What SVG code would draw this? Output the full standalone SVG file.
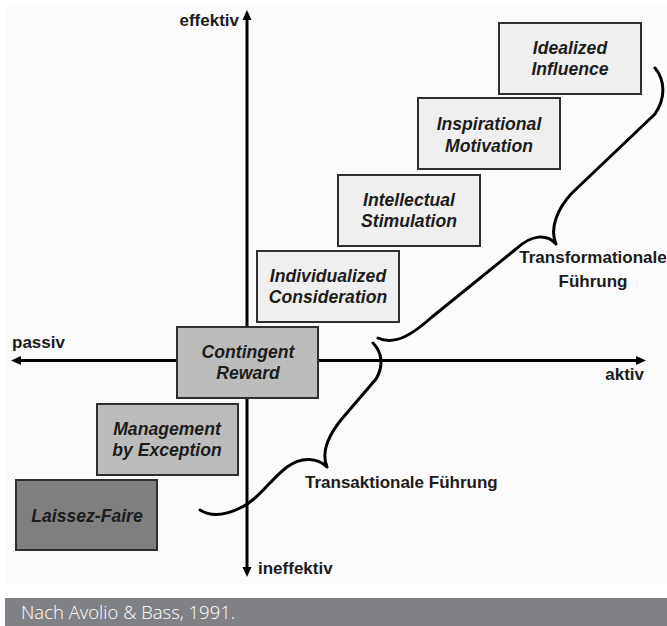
<svg xmlns="http://www.w3.org/2000/svg" width="667" height="626" viewBox="0 0 667 626">
<style>
.box{stroke:#2e2e2e;stroke-width:2}
.light{fill:#efefef}
.mid{fill:#bcbcbc}
.dark{fill:#7f7f7f}
.bt{font-family:"Liberation Sans",Arial,sans-serif;font-size:17.6px;font-weight:bold;font-style:italic;fill:#1c1c1c;text-anchor:middle}
.lab{font-family:"Liberation Sans",Arial,sans-serif;font-size:17px;font-weight:bold;fill:#1c1c1c}
.axis{stroke:#000;stroke-width:3;fill:none}
.brace{stroke:#000;stroke-width:3;fill:none;stroke-linecap:round;stroke-linejoin:round}
</style>
<rect x="0" y="0" width="667" height="626" fill="#ffffff"/>
<rect x="6" y="5" width="661" height="579" fill="#fbfbfb"/>
<g id="axes">
<line class="axis" x1="247" y1="18" x2="247" y2="569"/>
<polygon points="247,10 242.5,20 251.5,20" fill="#000"/>
<polygon points="247,577 242.5,567 251.5,567" fill="#000"/>
<line class="axis" x1="19" y1="360.5" x2="638" y2="360.5"/>
<polygon points="11,360.5 21,356 21,365" fill="#000"/>
<polygon points="646,360.5 636,356 636,365" fill="#000"/>
<text class="lab" x="239" y="26" text-anchor="end">effektiv</text>
<text class="lab" x="258" y="574">ineffektiv</text>
<text class="lab" x="12" y="348">passiv</text>
<text class="lab" x="644" y="380" text-anchor="end">aktiv</text>
</g>
<g id="idealized">
<rect class="box light" x="499" y="23" width="142" height="71"/>
<text class="bt" x="570" y="54">Idealized</text>
<text class="bt" x="570" y="75">Influence</text>
</g>
<g id="inspirational">
<rect class="box light" x="418" y="98" width="142" height="71"/>
<text class="bt" x="489" y="130">Inspirational</text>
<text class="bt" x="489" y="152">Motivation</text>
</g>
<g id="intellectual">
<rect class="box light" x="338" y="175" width="142" height="71"/>
<text class="bt" x="409" y="206">Intellectual</text>
<text class="bt" x="409" y="227">Stimulation</text>
</g>
<g id="individualized">
<rect class="box light" x="257" y="251" width="142" height="71"/>
<text class="bt" x="328" y="282">Individualized</text>
<text class="bt" x="328" y="303">Consideration</text>
</g>
<g id="contingent">
<rect class="box mid" x="177" y="327" width="141" height="71"/>
<text class="bt" x="248" y="358">Contingent</text>
<text class="bt" x="248" y="379">Reward</text>
</g>
<g id="management">
<rect class="box mid" x="97" y="404" width="141" height="71"/>
<text class="bt" x="167" y="435">Management</text>
<text class="bt" x="167" y="456">by Exception</text>
</g>
<g id="laissez">
<rect class="box dark" x="16" y="480" width="141" height="70"/>
<text class="bt" x="87" y="522">Laissez-Faire</text>
</g>
<g id="connectors">
<path class="brace" d="M655,68 C665,80 666,98 655,114 L572,193 C558,208 549,228 556,244 C547,234 532,234 516,249 L432,317 C414,333 396,346 378,338"/>
<path class="brace" d="M373,343 C382,352 384,366 376,379 L346,414 C330,432 320,450 327,467 C318,458 302,456 287,467 C270,480 258,500 240,508 C226,515 211,517 200,510"/>
</g>
<g id="labels">
<text class="lab" x="593" y="263" text-anchor="middle">Transformationale</text>
<text class="lab" x="593" y="287" text-anchor="middle">Führung</text>
<text class="lab" x="305" y="488">Transaktionale Führung</text>
</g>
<g id="caption">
<rect x="5" y="598" width="662" height="28" fill="#808184"/>
<text x="21" y="619" font-family="Open Sans, sans-serif" font-size="18.5" font-weight="300" fill="#ffffff">Nach Avolio &amp; Bass, 1991.</text>
</g>
</svg>
